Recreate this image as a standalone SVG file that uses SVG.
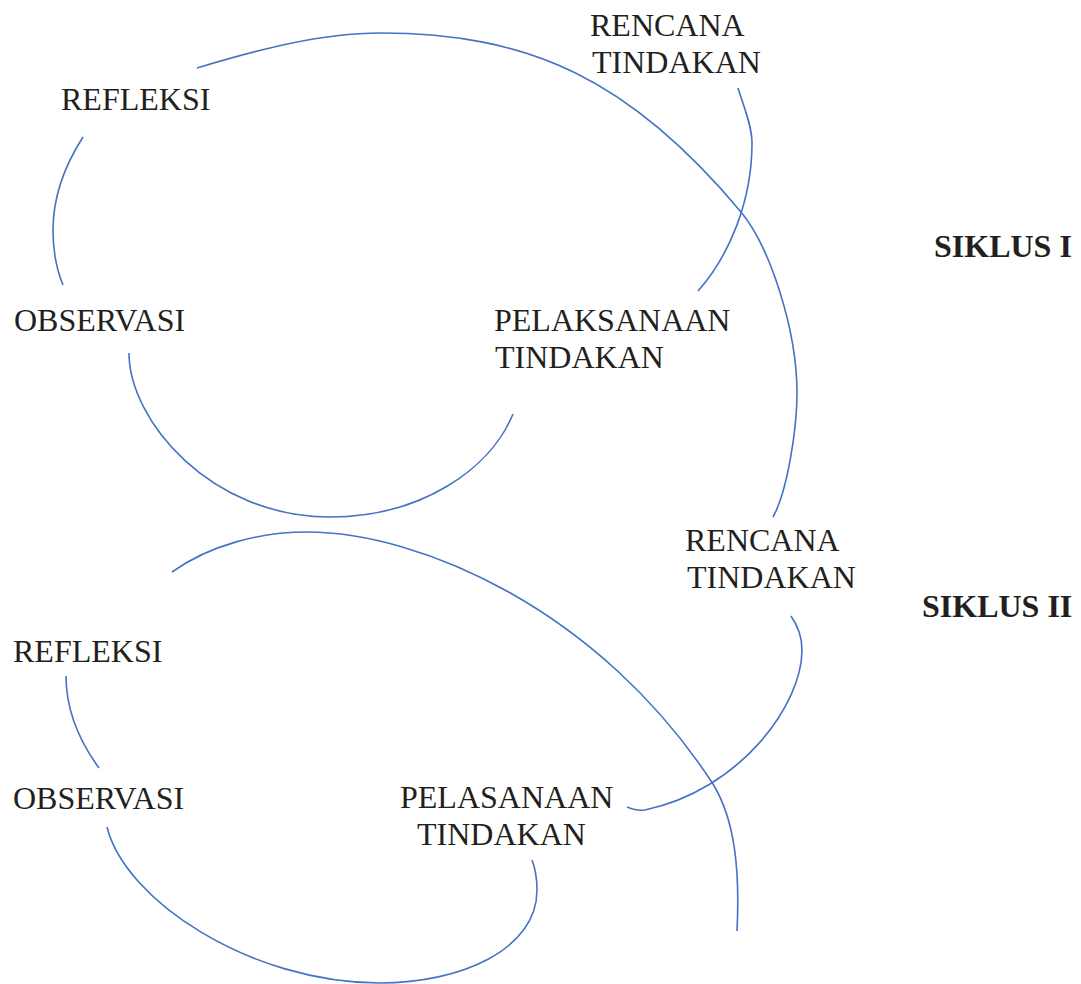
<svg xmlns="http://www.w3.org/2000/svg" width="1081" height="984" viewBox="0 0 1081 984">
<style>
.t{font-family:"Liberation Serif","Times New Roman",serif;font-size:32px;fill:#231F20}
.b{font-family:"Liberation Serif","Times New Roman",serif;font-size:32px;font-weight:bold;fill:#231F20}
.c{fill:none;stroke:#4472C4;stroke-width:1.6}
</style>
<rect width="1081" height="984" fill="#ffffff"/>
<g id="connectors">
<path class="c" d="M197,68 C257,50 320,33 380,33 C530,33 631,80 741,212 C770,247 797,330 797,393 C797,430 787,492 773,517"/>
<path class="c" d="M738,88 C743,105 752,125 752,143 C752,200 730,255 698,291"/>
<path class="c" d="M83,137 C65,165 53,198 53,230 C53,252 56,268 63,285"/>
<path class="c" d="M129,353 C129,420 210,517 330,517 C420,517 490,470 513,414"/>
<path class="c" d="M172,572 C210,545 260,532 307,532 C420,532 600,610 713,784 C735,820 740,870 737,931"/>
<path class="c" d="M791,616 C798,626 802,637 802,650 C802,705 740,790 645,810 C638,811 632,809 627,807"/>
<path class="c" d="M66,676 C66,710 80,742 99,768"/>
<path class="c" d="M107,827 C125,900 250,983 380,983 C460,983 537,950 537,890 C537,878 535,868 532,860"/>
</g>
<g id="n-refleksi1"><text class="t" x="61" y="110">REFLEKSI</text></g>
<g id="n-observasi1"><text class="t" x="14" y="331">OBSERVASI</text></g>
<g id="n-rencana1"><text class="t" x="590" y="36">RENCANA</text><text class="t" x="592" y="73">TINDAKAN</text></g>
<g id="n-pelaksanaan1"><text class="t" x="494" y="331">PELAKSANAAN</text><text class="t" x="495" y="368">TINDAKAN</text></g>
<g id="n-siklus1"><text class="b" x="934" y="257">SIKLUS I</text></g>
<g id="n-refleksi2"><text class="t" x="13" y="662">REFLEKSI</text></g>
<g id="n-observasi2"><text class="t" x="13" y="809">OBSERVASI</text></g>
<g id="n-rencana2"><text class="t" x="685" y="551">RENCANA</text><text class="t" x="687" y="588">TINDAKAN</text></g>
<g id="n-pelasanaan2"><text class="t" x="400" y="808">PELASANAAN</text><text class="t" x="417" y="845">TINDAKAN</text></g>
<g id="n-siklus2"><text class="b" x="922" y="617">SIKLUS II</text></g>
</svg>
